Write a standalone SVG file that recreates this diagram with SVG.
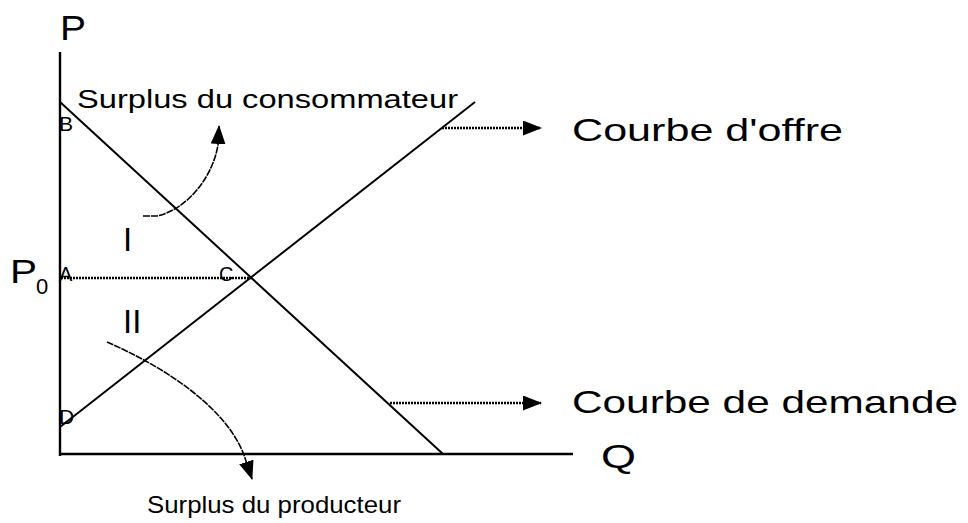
<svg xmlns="http://www.w3.org/2000/svg" width="968" height="523" viewBox="0 0 968 523">
<defs>
<style>
text{font-family:"Liberation Sans",Arial,sans-serif;fill:#000}
.ax{stroke:#000;stroke-width:2.4;fill:none}
.ln{stroke:#000;stroke-width:2;fill:none}
.dot{stroke:#000;stroke-width:2.4;stroke-dasharray:2,1;fill:none}
.cv{stroke:#000;stroke-width:1.6;fill:none;stroke-dasharray:7,1}
</style>
<marker id="ah" viewBox="0 0 19 15" refX="18" refY="7.5" markerWidth="19" markerHeight="15" markerUnits="userSpaceOnUse" orient="auto">
<path d="M0,0 L19,7.5 L0,15 Z" fill="#000"/>
</marker>
</defs>
<rect width="968" height="523" fill="#fff"/>
<g id="axes">
<line class="ax" x1="60" y1="52" x2="60" y2="456"/>
<line class="ax" x1="59" y1="454" x2="573" y2="454"/>
</g>
<g id="connectors">
<line id="demande" class="ln" x1="60" y1="102" x2="443" y2="454"/>
<line id="offre" class="ln" x1="60" y1="427" x2="475" y2="102"/>
<line id="prix" class="dot" x1="61" y1="278" x2="252" y2="278"/>
<line class="dot" x1="442" y1="128" x2="541" y2="128" marker-end="url(#ah)"/>
<line class="dot" x1="390" y1="403" x2="541" y2="403" marker-end="url(#ah)"/>
<path class="cv" d="M143,216 L157,216 C185,210 212,180 218,145 L219,126" marker-end="url(#ah)"/>
<path class="cv" d="M107,342 C160,365 225,405 244,455 L252,479" marker-end="url(#ah)"/>
</g>
<g id="labels">
<text x="60" y="40" font-size="35" textLength="26" lengthAdjust="spacingAndGlyphs">P</text>
<text x="77" y="108" font-size="25" textLength="381" lengthAdjust="spacingAndGlyphs">Surplus du consommateur</text>
<text x="59" y="131" font-size="21">B</text>
<text x="59" y="281" font-size="20">A</text>
<text x="219" y="281" font-size="20">C</text>
<text x="59" y="424" font-size="21">D</text>
<text x="10" y="283" font-size="34" textLength="27" lengthAdjust="spacingAndGlyphs">P</text>
<text x="36" y="294" font-size="22">0</text>
<text x="123" y="251" font-size="33">I</text>
<text x="123" y="333" font-size="33">II</text>
<text x="601" y="468" font-size="34" textLength="35" lengthAdjust="spacingAndGlyphs">Q</text>
<text x="572" y="141" font-size="32" textLength="271" lengthAdjust="spacingAndGlyphs">Courbe d'offre</text>
<text x="572" y="413" font-size="32" textLength="386" lengthAdjust="spacingAndGlyphs">Courbe de demande</text>
<text x="147" y="513" font-size="24" textLength="254" lengthAdjust="spacingAndGlyphs">Surplus du producteur</text>
</g>
</svg>
